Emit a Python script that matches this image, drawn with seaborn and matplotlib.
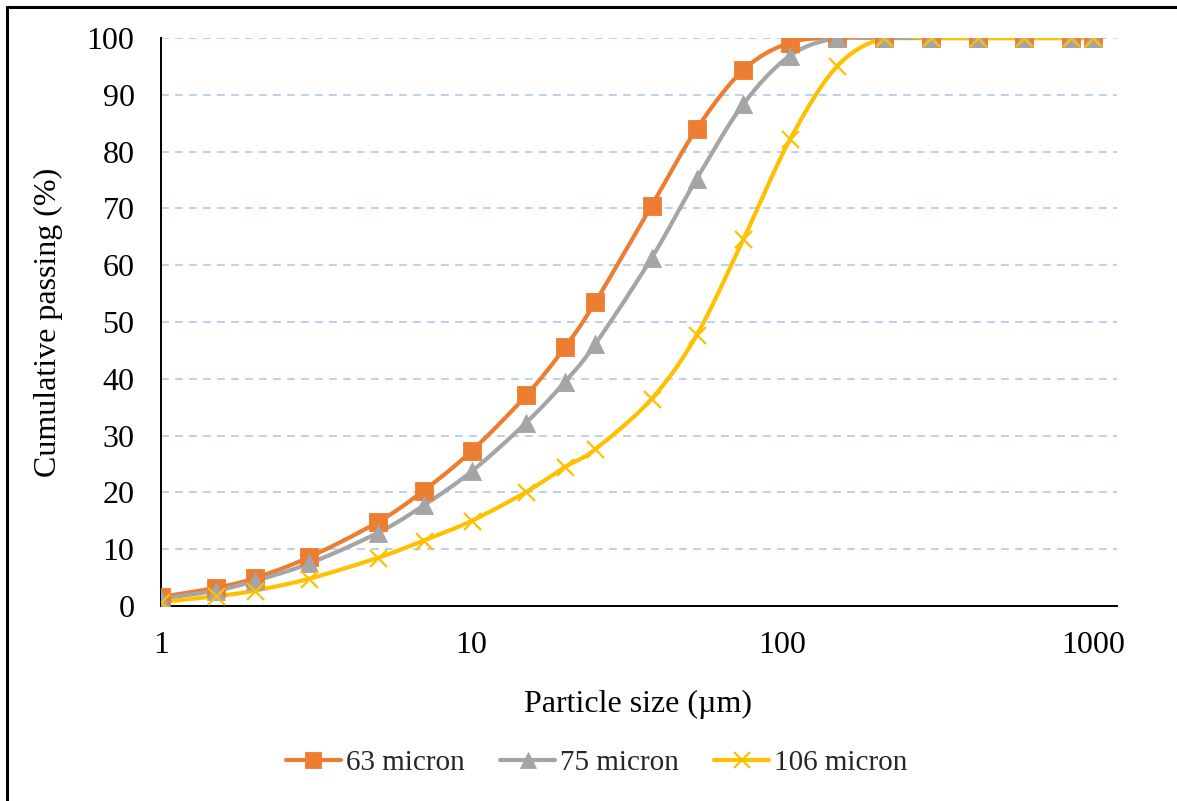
import numpy as np
import matplotlib
matplotlib.use("Agg")
import matplotlib.pyplot as plt
from matplotlib.lines import Line2D
import seaborn as sns

# Sieve sizes (µm) and cumulative passing (%) for each feed size
particle_size = [1, 1.5, 2, 3, 5, 7, 10, 15, 20, 25, 38, 53, 75, 106,
                 150, 212, 300, 425, 600, 850, 1000]
passing_63 = [1.6, 3.2, 4.9, 8.6, 14.8, 20.3, 27.3, 37.1, 45.6, 53.5, 70.5,
              84.0, 94.4, 99.2, 100, 100, 100, 100, 100, 100, 100]
passing_75 = [1.3, 2.7, 4.4, 7.5, 12.9, 17.7, 23.7, 32.3, 39.5, 46.1, 61.3,
              75.2, 88.4, 96.9, 100, 100, 100, 100, 100, 100, 100]
passing_106 = [0.7, 1.7, 2.7, 4.8, 8.5, 11.5, 15.0, 20.1, 24.5, 27.6, 36.5,
               47.7, 64.6, 82.2, 95.0, 100, 100, 100, 100, 100, 100]
series_labels = ["63 micron", "75 micron", "106 micron"]
x_ticks = [1, 10, 100, 1000]
y_ticks = list(range(0, 101, 10))

colors = ["#ED7D31", "#A5A5A5", "#FFC000"]
markers = ["s", "^", "x"]


def smooth_curve(xs, ys, steps=24):
    """Catmull-Rom smoothing in (log10 x, y) space, like a spreadsheet's smoothed line."""
    u = np.log10(np.asarray(xs, dtype=float))
    v = np.asarray(ys, dtype=float)
    pts = np.column_stack([u, v])
    ext = np.vstack([pts[0], pts, pts[-1]])
    out = []
    t = np.linspace(0, 1, steps, endpoint=False)[:, None]
    for i in range(1, len(ext) - 2):
        p0, p1, p2, p3 = ext[i - 1], ext[i], ext[i + 1], ext[i + 2]
        c1 = p1 + (p2 - p0) / 6.0
        c2 = p2 - (p3 - p1) / 6.0
        seg = ((1 - t) ** 3) * p1 + 3 * ((1 - t) ** 2) * t * c1 \
            + 3 * (1 - t) * t ** 2 * c2 + t ** 3 * p2
        out.append(seg)
    out.append(pts[-1][None, :])
    res = np.vstack(out)
    return 10 ** res[:, 0], res[:, 1]


sns.set_theme(style="white")
plt.rcParams["font.family"] = ["Liberation Serif", "DejaVu Serif"]

FS = 23
LEG_FS = 21

fig = plt.figure(figsize=(11.77, 8.01), dpi=100)
ax = fig.add_axes([161 / 1177, 1 - 606 / 801, (1117 - 161) / 1177, (606 - 38) / 801])

ax.set_xscale("log")
ax.set_xlim(1, 1195)
ax.set_ylim(0, 100)

# dashed horizontal gridlines
ax.yaxis.grid(True, color="#B8D3EC", linestyle=(0, (4, 3.2)), linewidth=1.4)
ax.xaxis.grid(False)
ax.set_axisbelow(True)

series = [passing_63, passing_75, passing_106]
marker_sizes = [150, 170, 150]
for vals, col, mk, ms, lab in zip(series, colors, markers, marker_sizes, series_labels):
    sx, sy = smooth_curve(particle_size, vals)
    sns.lineplot(x=sx, y=sy, sort=False, estimator=None, color=col,
                 linewidth=3.0, ax=ax, legend=False)
    if mk == "x":
        sns.scatterplot(x=particle_size, y=vals, marker="x", s=ms, color=col,
                        linewidth=1.6, ax=ax, legend=False, zorder=3)
    else:
        sns.scatterplot(x=particle_size, y=vals, marker=mk, s=ms, color=col,
                        edgecolor=col, linewidth=0.6, ax=ax, legend=False, zorder=3)

ax.set_xticks(x_ticks)
ax.set_xticklabels([str(t) for t in x_ticks])
ax.xaxis.set_minor_locator(matplotlib.ticker.NullLocator())
ax.set_yticks(y_ticks)
ax.set_yticklabels([str(t) for t in y_ticks])
ax.tick_params(axis="both", length=0, labelsize=FS, colors="black")
ax.tick_params(axis="y", pad=19)
ax.tick_params(axis="x", pad=18)

for side in ["top", "right"]:
    ax.spines[side].set_visible(False)
for side in ["left", "bottom"]:
    ax.spines[side].set_color("black")
    ax.spines[side].set_linewidth(1.4)

ax.set_xlabel("Particle size (µm)", fontsize=FS, color="black")
ax.set_ylabel("Cumulative passing (%)", fontsize=FS, color="black")
ax.xaxis.set_label_coords((638 - 161) / (1117 - 161), -(690 - 606) / (606 - 38))
ax.yaxis.set_label_coords(-(161 - 63) / (1117 - 161), 0.5)

handles = [Line2D([], [], color=c, linewidth=3.0, marker=m, markersize=11,
                  markeredgewidth=1.6 if m == "x" else 0.6, markeredgecolor=c)
           for c, m in zip(colors, markers)]
fig.legend(handles, series_labels, loc="center", bbox_to_anchor=(0.507, 1 - 763 / 801),
           ncol=3, frameon=False, fontsize=LEG_FS, handlelength=1.9, handletextpad=0.17,
           columnspacing=1.2)

# outer chart frame (left and top edges visible)
fig.add_artist(Line2D([7 / 1177, 7 / 1177], [0, 1 - 7 / 801], transform=fig.transFigure,
                      color="black", linewidth=2.2))
fig.add_artist(Line2D([7 / 1177, 1], [1 - 7 / 801, 1 - 7 / 801], transform=fig.transFigure,
                      color="black", linewidth=2.2))

fig.savefig("out.png", dpi=100)
